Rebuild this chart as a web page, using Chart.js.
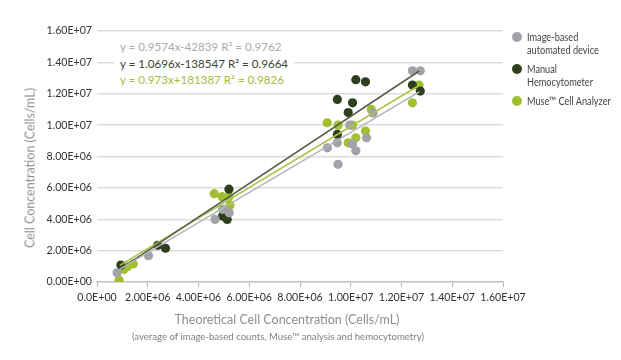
<!DOCTYPE html>
<html>
<head>
<meta charset="utf-8">
<script src="https://cdn.jsdelivr.net/npm/chart.js@4"></script>
<style>
    body { margin: 0; background: #fff; }
    #wrap { position: relative; width: 621px; height: 360px; font-family: Lato, "Open Sans", sans-serif; }
    canvas { position: absolute; left: 0; top: 0; }
    .txt { position: absolute; white-space: nowrap; }
    #ecuaciones { left: 114px; top: 37px; padding: 2px 6px; background: #fff; font-size: 11.6px; line-height: 16.5px; }
    #leyenda { left: 512px; top: 30px; font-size: 11.5px; line-height: 13px; color: #444; }
    #leyenda .item { position: relative; padding-left: 15px; margin-bottom: 6px; }
    #leyenda .dot { position: absolute; left: 0; top: 2px; width: 10px; height: 10px; border-radius: 50%; }
    #leyenda .lbl { display: inline-block; transform: scaleX(0.8); transform-origin: left center; }
    #tituloX { left: 97px; width: 380px; top: 312px; text-align: center; font-size: 12.5px; color: #8c8f92; }
    #subX { left: 97px; width: 362px; top: 331px; text-align: center; font-size: 9.6px; color: #7d8084; }
    #tituloY { left: 30px; top: 168px; font-size: 12.5px; color: #8c8f92; transform: translate(-50%, -50%) rotate(-90deg); }
</style>
</head>
<body>
<div id="wrap">
    <canvas id="grafico" width="621" height="360"></canvas>
    <div id="ecuaciones" class="txt"></div>
    <div id="leyenda" class="txt"></div>
    <div id="tituloX" class="txt">Theoretical Cell Concentration (Cells/mL)</div>
    <div id="subX" class="txt">(average of image-based counts, Muse™ analysis and hemocytometry)</div>
    <div id="tituloY" class="txt">Cell Concentration (Cells/mL)</div>
</div>
<script>
// --- DATOS ---
const series = ['Image-based\nautomated device', 'Manual\nHemocytometer', 'Muse™ Cell Analyzer'];
const colores = ['#a1a3a8', '#2f3f1d', '#a3bf30'];
const coloresLinea = ['#b3b5b8', '#55604a', '#a9c446'];
const coloresEcuacion = ['#a9abae', '#3a4530', '#a4bd3c'];
const ecuaciones = [
    'y = 0.9574x-42839 R² = 0.9762',
    'y = 1.0696x-138547 R² = 0.9664',
    'y = 0.973x+181387 R² = 0.9826'
];

const imagenX = [0.79e6, 2.03e6, 4.95e6, 4.65e6, 5.21e6, 12.43e6, 12.74e6, 10.88e6, 9.96e6, 9.08e6, 9.47e6, 10.07e6, 10.2e6, 10.62e6, 9.5e6];
const imagenY = [0.59e6, 1.68e6, 4.63e6, 3.99e6, 4.41e6, 13.46e6, 13.46e6, 10.78e6, 10.0e6, 8.55e6, 8.87e6, 8.79e6, 8.36e6, 9.19e6, 7.5e6];

const manualX = [0.94e6, 2.39e6, 2.70e6, 5.2e6, 4.95e6, 5.13e6, 10.2e6, 10.58e6, 12.43e6, 12.74e6, 9.47e6, 10.07e6, 9.9e6, 9.47e6];
const manualY = [1.08e6, 2.34e6, 2.15e6, 5.92e6, 4.2e6, 3.99e6, 12.9e6, 12.76e6, 12.55e6, 12.17e6, 11.64e6, 11.42e6, 10.8e6, 9.41e6];

const museX = [0.87e6, 1.06e6, 1.2e6, 1.43e6, 4.62e6, 4.93e6, 5.2e6, 5.24e6, 12.69e6, 12.43e6, 10.81e6, 9.07e6, 9.5e6, 10.07e6, 10.58e6, 9.9e6, 10.2e6];
const museY = [0.13e6, 0.81e6, 0.98e6, 1.15e6, 5.63e6, 5.44e6, 5.44e6, 4.9e6, 12.55e6, 11.42e6, 11.0e6, 10.15e6, 10.0e6, 10.0e6, 9.62e6, 8.87e6, 9.19e6];

// extremos de las lineas de tendencia
const tendenciaX = [0.9e6, 12.7e6];
const tendenciaImagenY = [0.82e6, 12.12e6];
const tendenciaManualY = [0.82e6, 13.45e6];
const tendenciaMuseY = [1.06e6, 12.54e6];

const xTicks = [0, 2e6, 4e6, 6e6, 8e6, 10e6, 12e6, 14e6, 16e6];
const xTickLabels = ['0.0E+00', '2.00E+06', '4.00E+06', '6.00E+06', '8.00E+06', '1.00E+07', '1.20E+07', '1.40E+07', '1.60E+07'];
const yTicks = [0, 2e6, 4e6, 6e6, 8e6, 10e6, 12e6, 14e6, 16e6];
const yTickLabels = ['0.00E+00', '2.00E+06', '4.00E+06', '6.00E+06', '8.00E+06', '1.00E+07', '1.20E+07', '1.40E+07', '1.60E+07'];

// --- ARMADO ---
const pares = (xs, ys) => xs.map((x, i) => ({ x: x, y: ys[i] }));
const puntos = [pares(imagenX, imagenY), pares(manualX, manualY), pares(museX, museY)];
const tendencias = [tendenciaImagenY, tendenciaManualY, tendenciaMuseY];

const datasets = [];
tendencias.forEach((ty, i) => {
    datasets.push({
        type: 'line', data: pares(tendenciaX, ty), borderColor: coloresLinea[i], borderWidth: 1.6,
        pointRadius: 0, fill: false, order: 1
    });
});
puntos.forEach((p, i) => {
    datasets.push({
        type: 'scatter', data: p, backgroundColor: colores[i], borderColor: colores[i],
        pointRadius: 4.6, borderWidth: 0, order: 2
    });
});

const fuente = { family: 'Lato, "Open Sans", sans-serif', size: 10.6 };

new Chart(document.getElementById('grafico'), {
    type: 'scatter',
    data: { datasets: datasets },
    options: {
        responsive: false,
        animation: false,
        events: [],
        layout: { padding: { left: 0, right: 118, top: 31, bottom: 0 } },
        plugins: { legend: { display: false }, tooltip: { enabled: false } },
        scales: {
            x: {
                type: 'linear', min: 0, max: 16e6,
                afterBuildTicks: s => { s.ticks = xTicks.map(v => ({ value: v })); },
                afterFit: s => { s.height = 78; },
                ticks: { color: '#333', font: fuente, padding: 4, maxRotation: 0, autoSkip: false, callback: (v, i) => xTickLabels[i] },
                grid: { drawOnChartArea: false, drawTicks: true, tickLength: 5, color: '#b5b5b5' },
                border: { display: true, color: '#c4c4c4', width: 1.5 }
            },
            y: {
                type: 'linear', min: 0, max: 16e6,
                afterBuildTicks: s => { s.ticks = yTicks.map(v => ({ value: v })); },
                afterFit: s => { s.width = 97; },
                ticks: { color: '#333', font: fuente, padding: 5, callback: (v, i) => yTickLabels[i] },
                grid: { drawTicks: false, color: '#dcdcdc', lineWidth: 1.5 },
                border: { display: false }
            }
        }
    }
});

// ecuaciones y leyenda
document.getElementById('ecuaciones').innerHTML = ecuaciones
    .map((e, i) => `<div style="color:${coloresEcuacion[i]}">${e}</div>`).join('');
document.getElementById('leyenda').innerHTML = series
    .map((s, i) => `<div class="item"><span class="dot" style="background:${colores[i]}"></span><span class="lbl">${s.replace('\n', '<br>')}</span></div>`).join('');
</script>
</body>
</html>
